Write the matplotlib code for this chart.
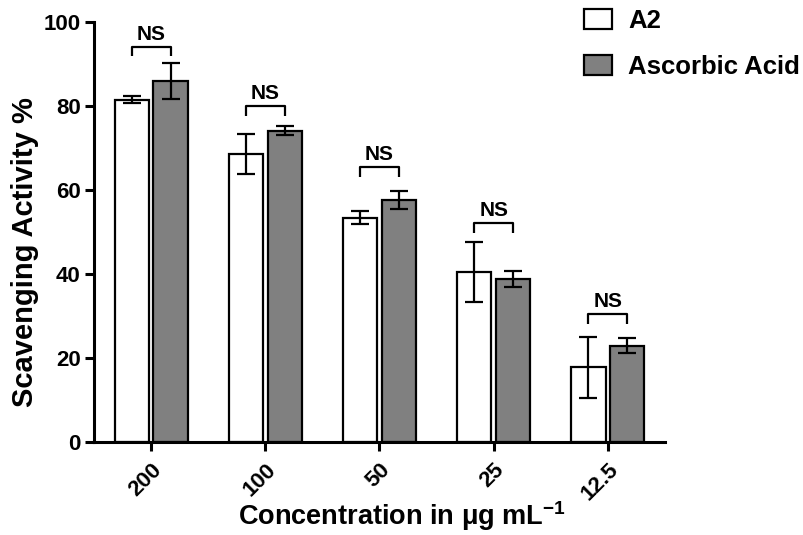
import matplotlib
matplotlib.use("Agg")
import matplotlib.pyplot as plt
import numpy as np
from matplotlib.patches import Patch

plt.rcParams['font.family'] = ['Liberation Sans', 'DejaVu Sans']
plt.rcParams['font.weight'] = 'bold'
plt.rcParams['mathtext.fontset'] = 'custom'
plt.rcParams['mathtext.rm'] = 'Liberation Sans:bold'
plt.rcParams['mathtext.bf'] = 'Liberation Sans:bold'
plt.rcParams['mathtext.it'] = 'Liberation Sans:bold'

# ---- data ----
concentrations = ["200", "100", "50", "25", "12.5"]
a2_mean = [81.5, 68.6, 53.4, 40.5, 17.8]
a2_err = [0.9, 4.8, 1.6, 7.2, 7.3]
aa_mean = [85.9, 74.1, 57.6, 38.8, 22.9]
aa_err = [4.3, 1.1, 2.2, 1.9, 1.8]
ns_heights = [94.1, 80.0, 65.5, 52.1, 30.4]
ns_labels = ["NS", "NS", "NS", "NS", "NS"]
series_names = ["A2", "Ascorbic Acid"]

grey = '#808080'

fig = plt.figure(figsize=(8.04, 5.35), dpi=100)
ax = fig.add_axes([94/804, 1-442/535, (665-94)/804, (442-22)/535])

x = np.arange(len(concentrations))
w = 0.30
off = 0.17
ax.bar(x - off, a2_mean, w, color='white', edgecolor='black', linewidth=1.6, zorder=2)
ax.bar(x + off, aa_mean, w, color=grey, edgecolor='black', linewidth=1.6, zorder=2)
ax.errorbar(x - off, a2_mean, yerr=a2_err, fmt='none', ecolor='black',
            elinewidth=1.6, capsize=6.5, capthick=1.6, zorder=3)
ax.errorbar(x + off, aa_mean, yerr=aa_err, fmt='none', ecolor='black',
            elinewidth=1.6, capsize=6.5, capthick=1.6, zorder=3)

leg_len = 2.3
for xi, h, lab in zip(x, ns_heights, ns_labels):
    ax.plot([xi - off, xi - off, xi + off, xi + off], [h - leg_len, h, h, h - leg_len],
            color='black', lw=1.6, solid_capstyle='butt', zorder=3, clip_on=False)
    ax.text(xi, h + 0.7, lab, ha='center', va='bottom', fontsize=15, fontweight='bold')

ax.set_xlim(-0.5, 4.5)
ax.set_ylim(0, 100)
ax.set_yticks([0, 20, 40, 60, 80, 100])
ax.set_xticks(x)
ax.set_xticklabels(concentrations, rotation=45, ha='right', rotation_mode='anchor')
for s in ['top', 'right']:
    ax.spines[s].set_visible(False)
for s in ['left', 'bottom']:
    ax.spines[s].set_linewidth(2.2)
ax.tick_params(axis='both', which='major', length=6.5, width=2.2, labelsize=16, direction='out')
ax.tick_params(axis='x', pad=6)
ax.tick_params(axis='y', pad=3)
for lab in ax.get_xticklabels() + ax.get_yticklabels():
    lab.set_fontweight('bold')

ax.set_ylabel("Scavenging Activity %", fontsize=21, fontweight='bold')
ax.yaxis.set_label_coords(-0.097, 0.452)
ax.set_xlabel("Concentration in μg mL$^{-1}$", fontsize=19.5, fontweight='bold')
ax.xaxis.set_label_coords(0.54, -0.137)

handles = [Patch(facecolor='white', edgecolor='black', linewidth=1.6),
           Patch(facecolor=grey, edgecolor='black', linewidth=1.6)]
fig.legend(handles, series_names, loc='upper left', bbox_to_anchor=(584/804, 1-9/535),
           frameon=False, handlelength=1.1, handleheight=0.82,
           handletextpad=0.62, labelspacing=0.85, borderpad=0, borderaxespad=0,
           prop={'weight': 'bold', 'size': 18.5})

fig.savefig("out.png", dpi=100)
